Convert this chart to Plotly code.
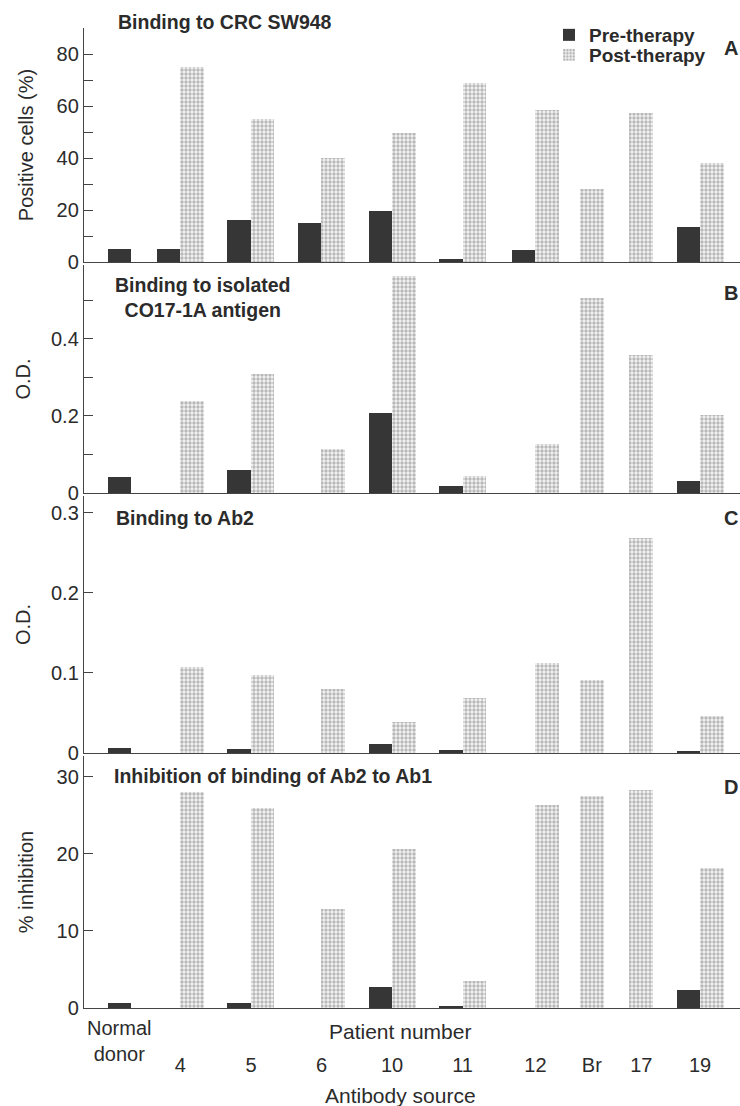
import plotly.graph_objects as go

# ---------------- data ----------------
categories = ["Normal donor", "4", "5", "6", "10", "11", "12", "Br", "17", "19"]

cells_pre = [5, 5, 16, 15, 19.5, 1, 4.5, None, None, 13.5]
cells_post = [None, 75, 55, 40, 49.5, 69, 58.5, 28, 57.5, 38]

antigen_pre = [0.042, None, 0.059, None, 0.208, 0.018, None, None, None, 0.03]
antigen_post = [None, 0.24, 0.308, 0.115, 0.564, 0.044, 0.126, 0.507, 0.358, 0.202]

ab2_pre = [0.006, None, 0.005, None, 0.011, 0.004, None, None, None, 0.003]
ab2_post = [None, 0.107, 0.098, 0.080, 0.039, 0.069, 0.113, 0.091, 0.268, 0.046]

inhib_pre = [0.6, None, 0.7, None, 2.7, 0.3, None, None, None, 2.4]
inhib_post = [None, 28, 25.9, 12.8, 20.6, 3.5, 26.3, 27.5, 28.3, 18.2]

# ---------------- layout constants ----------------
W, H = 740, 1106
ML, MR, MT, MB = 84, 0, 0, 98
PW, PH = W - ML - MR, H - MT - MB

# slot (pair boundary) positions along x, in bar-width units
slots = [2.0, 4.1, 7.1, 10.1, 13.1, 16.1, 19.2, 21.1, 23.2, 26.2]
x_range = [0, 27.9]
bar_w = 1.0

TXT = "#2b2b2b"
AX = "#444444"
PRE = "#363636"
FONT = "Liberation Sans, Arial, Helvetica, sans-serif"


def px_x(x):
    return (x - ML) / PW


def px_y(y):
    return (MT + PH - y) / PH


# panels: (pre, post, y title, range top, pixel rows (top, bottom), major dtick, minor dtick, title standoff)
panels = [
    (cells_pre, cells_post, "Positive cells (%)", 90, (28, 262), 20, 10, 17),
    (antigen_pre, antigen_post, "O.D.", 0.592, (265, 493), 0.2, 0.1, 14),
    (ab2_pre, ab2_post, "O.D.", 0.321, (496, 753), 0.1, None, 14),
    (inhib_pre, inhib_post, "% inhibition", 32.7, (756, 1008), 10, None, 17),
]

post_marker = dict(
    color="#ffffff", line=dict(width=0),
    pattern=dict(shape=".", fgcolor="#7c7c7c", bgcolor="#f4f4f4", size=4, solidity=0.55),
)

fig = go.Figure()

for i, (pre, post, ytitle, ytop, (ptop, pbot), dt, mdt, stand) in enumerate(panels):
    n = "" if i == 0 else str(i + 1)
    fig.add_trace(go.Bar(
        x=slots, y=pre, width=bar_w, offset=-bar_w,
        marker=dict(color=PRE, line=dict(width=0)),
        name="Pre-therapy", legend="legend", showlegend=(i == 0),
        xaxis="x" + n, yaxis="y" + n, hoverinfo="skip",
    ))
    fig.add_trace(go.Bar(
        x=slots, y=post, width=bar_w, offset=0,
        marker=post_marker,
        name="Post-therapy", legend="legend2", showlegend=(i == 0),
        xaxis="x" + n, yaxis="y" + n, hoverinfo="skip",
    ))
    dom = [px_y(pbot), px_y(ptop)]
    yax = dict(
        domain=dom, range=[0, ytop], anchor="x" + n,
        showline=True, linecolor=AX, linewidth=1.4,
        ticks="inside", ticklen=9, tickwidth=1.3, tickcolor=AX,
        dtick=dt, tick0=0, showgrid=False, zeroline=False,
        tickfont=dict(family=FONT, size=20, color=TXT),
        title=dict(text=ytitle, font=dict(family=FONT, size=20, color=TXT), standoff=stand),
    )
    if mdt is not None:
        yax["minor"] = dict(dtick=mdt, tick0=0, ticks="inside", ticklen=9,
                            tickwidth=1.3, tickcolor=AX, showgrid=False)
    xax = dict(
        domain=[0, 1], range=x_range, anchor="y" + n,
        showline=True, linecolor=AX, linewidth=1.4,
        ticks="", showgrid=False, zeroline=False, showticklabels=False,
    )
    fig.layout["yaxis" + n] = yax
    fig.layout["xaxis" + n] = xax


# label position: centre of the bars drawn for each category
def has(vals, k):
    return any(v[k] is not None for v in vals)


pre_all = [cells_pre, antigen_pre, ab2_pre, inhib_pre]
post_all = [cells_post, antigen_post, ab2_post, inhib_post]
label_pos = []
for k, s in enumerate(slots):
    hp, hq = has(pre_all, k), has(post_all, k)
    if hp and hq:
        label_pos.append(s)
    elif hp:
        label_pos.append(s - bar_w / 2)
    else:
        label_pos.append(s + bar_w / 2)

# bottom axis: "Normal donor"
fig.layout.xaxis4.update(
    showticklabels=True, tickvals=[label_pos[0]], ticktext=["Normal<br>donor"],
    tickfont=dict(family=FONT, size=20, color=TXT), ticklabelstandoff=2,
)
# overlay axis for patient numbers (lower row)
fig.layout.xaxis5 = dict(
    overlaying="x4", anchor="y4", side="bottom", domain=[0, 1], range=x_range,
    showline=False, ticks="", showgrid=False, zeroline=False,
    tickvals=label_pos[1:], ticktext=categories[1:],
    tickfont=dict(family=FONT, size=20, color=TXT), ticklabelstandoff=43,
)
fig.add_trace(go.Scatter(x=[], y=[], xaxis="x5", yaxis="y4", showlegend=False,
                         hoverinfo="skip"))

ann = []


def add_text(text, x, y, xanchor="left", size=19, bold=True, align="left"):
    ann.append(dict(
        text=("<b>%s</b>" % text) if bold else text,
        x=px_x(x), y=px_y(y), xref="paper", yref="paper",
        xanchor=xanchor, yanchor="middle", showarrow=False, align=align,
        font=dict(family=FONT, size=size, color=TXT),
    ))


add_text("Binding to CRC SW948", 116, 22, size=19.5)
add_text("Binding to isolated<br>CO17-1A antigen", 203, 298, xanchor="center", align="center", size=19.5)
add_text("Binding to Ab2", 114, 518, size=19.5)
add_text("Inhibition of binding of Ab2 to Ab1", 112, 776, size=19.5)
for letter, yy in zip("ABCD", [48, 293, 518, 787]):
    add_text(letter, 740, yy, xanchor="right", size=20)
add_text("Patient number", 400, 1031, xanchor="center", size=21, bold=False)
add_text("Antibody source", 400, 1095, xanchor="center", size=21, bold=False)

legend_common = dict(
    x=px_x(549), xanchor="left", yanchor="middle",
    bgcolor="rgba(0,0,0,0)", borderwidth=0,
    font=dict(family=FONT, size=19, color=TXT, weight="bold"),
    itemwidth=30,
)

fig.update_layout(
    width=W, height=H,
    margin=dict(l=ML, r=MR, t=MT, b=MB, pad=0),
    paper_bgcolor="white", plot_bgcolor="white",
    barmode="overlay", bargap=0,
    annotations=ann,
    showlegend=True,
    legend=dict(y=px_y(35), **legend_common),
    legend2=dict(y=px_y(55), **legend_common),
    font=dict(family=FONT, color=TXT),
)

fig.write_html("out.html", config={"displayModeBar": False},
               post_script="document.body.style.margin='0';")
